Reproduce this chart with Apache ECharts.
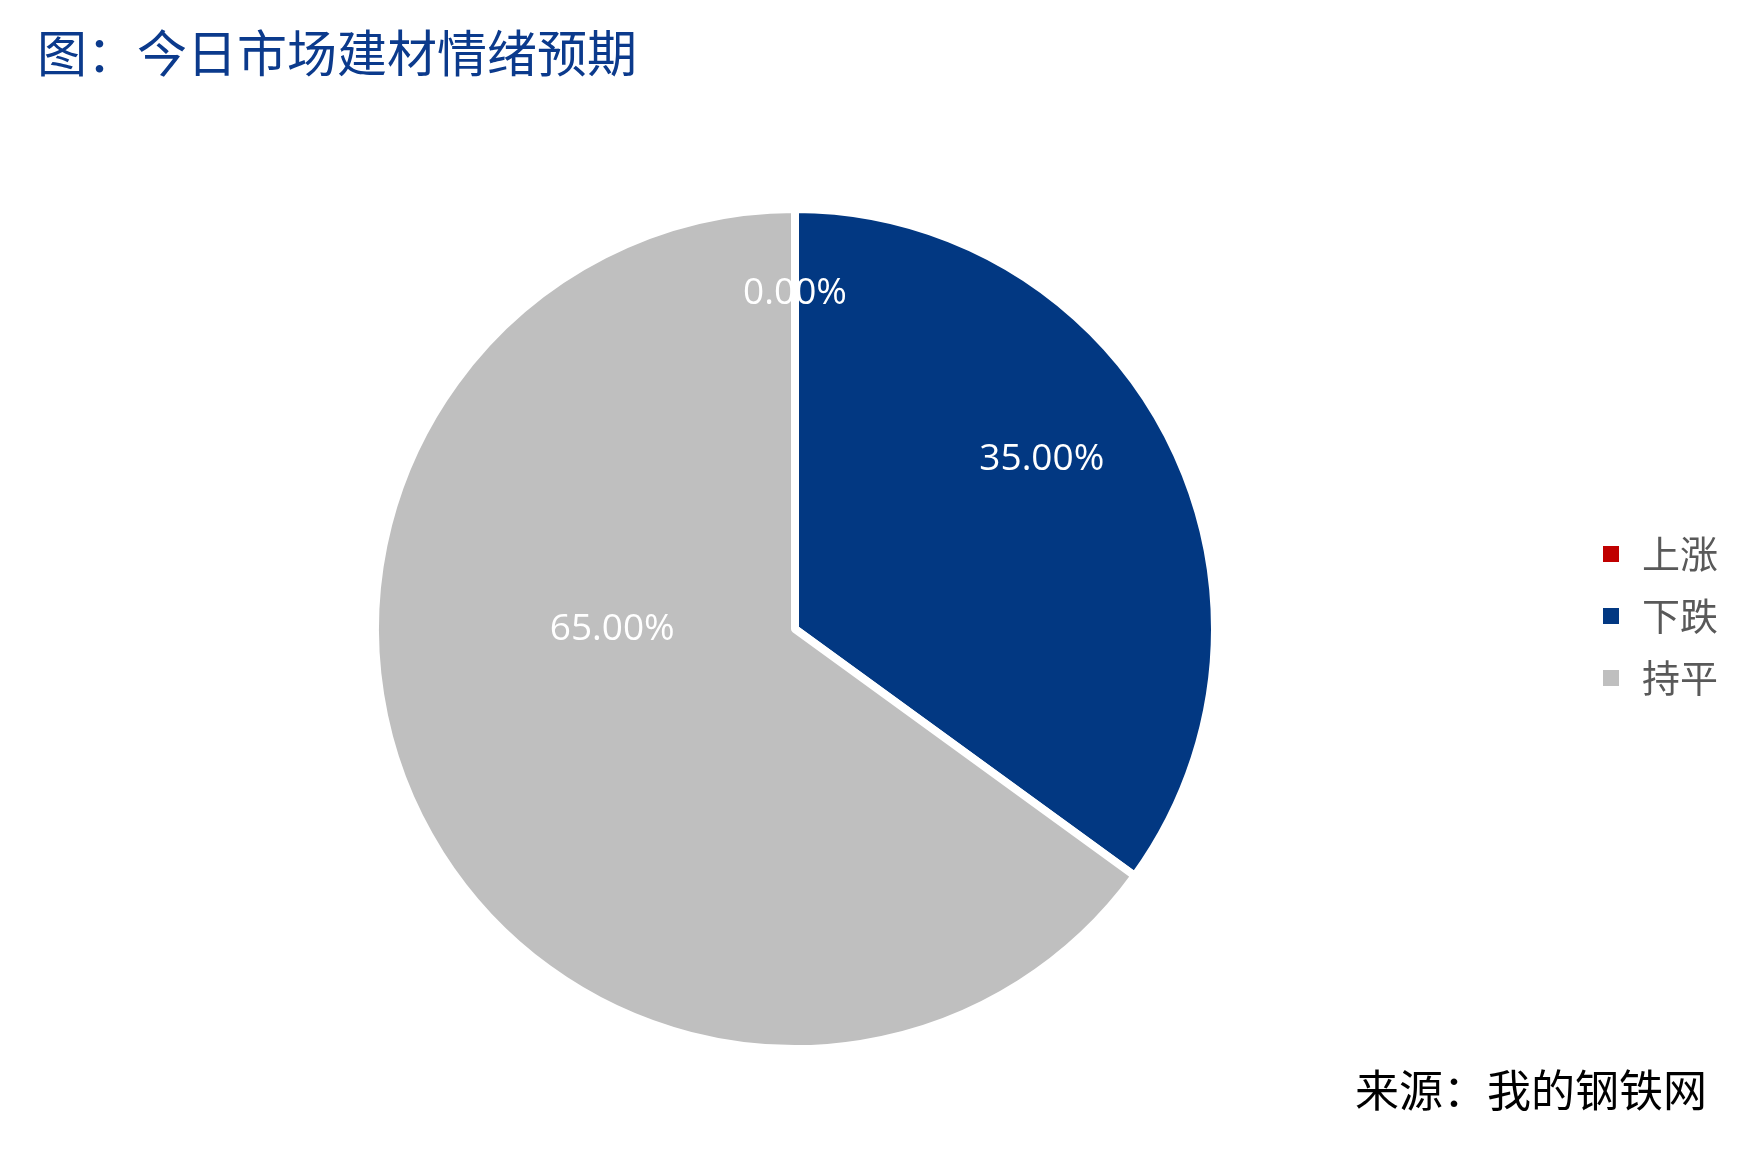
<!DOCTYPE html>
<html>
<head>
<meta charset="utf-8">
<script src="https://cdn.jsdelivr.net/npm/echarts@6/dist/echarts.min.js"></script>
<style>
html,body{margin:0;padding:0;background:#ffffff;}
#chart{width:1764px;height:1166px;}
</style>
</head>
<body>
<div id="chart"></div>
<script>
var titleText = '图：今日市场建材情绪预期';
var sourceText = '来源：我的钢铁网';
var categories = ['上涨', '下跌', '持平'];
var values = [0, 35, 65];
var colors = ['#C00000', '#023882', '#BFBFBF'];
var labelOffsets = [[0, -123], [57, -73], [7, -96]];

var chart = echarts.init(document.getElementById('chart'));
var data = categories.map(function (c, i) {
  return {
    name: c,
    value: values[i],
    itemStyle: { color: colors[i] },
    label: { offset: labelOffsets[i] }
  };
});
chart.setOption({
  backgroundColor: '#ffffff',
  animation: false,
  title: [{
    text: titleText,
    left: 32,
    top: 23,
    textStyle: { fontFamily: 'Noto Sans CJK SC', fontSize: 50, fontWeight: 'normal', color: '#0B3A8C' }
  }, {
    text: sourceText,
    right: 52,
    top: 1063,
    textStyle: { fontFamily: 'Noto Sans CJK SC', fontSize: 44, fontWeight: 'normal', color: '#000000' }
  }],
  legend: {
    orient: 'vertical',
    left: 1601,
    top: 535,
    padding: 0,
    itemWidth: 18,
    itemHeight: 18,
    itemGap: 24,
    icon: 'rect',
    data: categories,
    textStyle: { fontFamily: 'Noto Sans CJK SC', fontSize: 38, color: '#595959', padding: [0, 0, 0, 17] }
  },
  series: [{
    type: 'pie',
    center: [795, 629],
    radius: [0, 420],
    startAngle: 90,
    clockwise: true,
    avoidLabelOverlap: false,
    itemStyle: { borderColor: '#ffffff', borderWidth: 8 },
    label: {
      show: true,
      position: 'inside',
      color: '#ffffff',
      fontFamily: 'Open Sans',
      fontSize: 37,
      formatter: function (p) { return p.value.toFixed(2) + '%'; }
    },
    labelLine: { show: false },
    emphasis: { disabled: true },
    data: data
  }]
});
</script>
</body>
</html>
